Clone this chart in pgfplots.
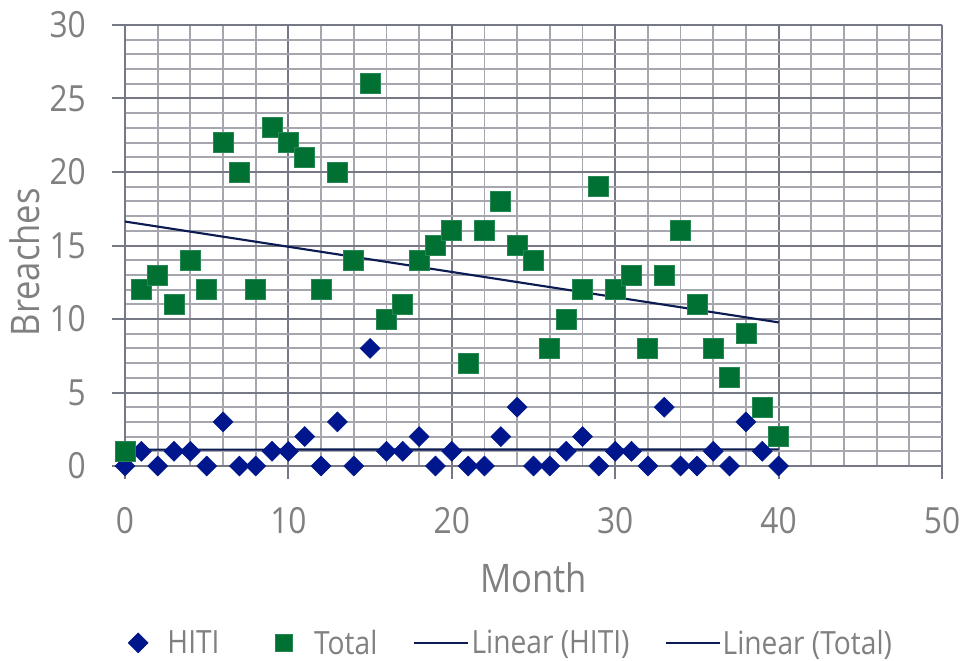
\documentclass[border=0pt]{standalone}
\usepackage{fontspec}
\setmainfont{Open Sans}[FakeStretch=0.88]
\usepackage{pgfplots}
\pgfplotsset{compat=1.18}
\definecolor{hiti}{RGB}{0,22,140}
\definecolor{total}{RGB}{0,113,50}
\definecolor{trend}{RGB}{12,28,82}
\definecolor{majorg}{RGB}{118,120,134}
\definecolor{minorg}{RGB}{166,167,174}
\definecolor{txt}{RGB}{128,128,128}
\pgfplotsset{
  legA/.style={legend image code/.code={\path (-7.5pt,0pt) (21.75pt,0pt); \draw[##1] plot coordinates {(0pt,0pt)};}},
  legB/.style={legend image code/.code={\path (-48pt,0pt) (22.5pt,0pt); \draw[##1, mark size=6.5pt] plot coordinates {(0pt,0pt)};}},
  legC/.style={legend image code/.code={\path (-27pt,0pt) (42pt,0pt); \draw[##1] (0pt,0pt) -- (40.5pt,0pt);}},
  legD/.style={legend image code/.code={\path (-26.25pt,0pt) (42pt,0pt); \draw[##1] (0pt,0pt) -- (40.5pt,0pt);}},
}
\begin{document}
\begin{tikzpicture}
\begin{axis}[
  scale only axis,
  width=612.75pt, height=330.75pt,
  xmin=0, xmax=50, ymin=0, ymax=30,
  xtick={0,10,...,50}, ytick={0,5,...,30},
  minor x tick num=4, minor y tick num=4,
  grid=both,
  major grid style={color=majorg, line width=1.5pt},
  minor grid style={color=minorg, line width=1.4pt},
  axis lines*=left,
  axis line style={color=majorg, line width=1.6pt},
  tick align=outside,
  major tick length=9.75pt, minor tick length=0pt,
  major tick style={color=majorg, line width=1.5pt},
  /pgf/number format/assume math mode=true,
  ticklabel style={font=\fontsize{27}{32}\selectfont, text=txt, inner sep=0pt},
  xticklabel style={anchor=north, yshift=-21pt},
  yticklabel style={anchor=east, xshift=-19.5pt},
  xlabel={Month}, ylabel={Breaches},
  every axis x label/.style={at={(axis description cs:0.5,-0.254)}, anchor=center, font=\fontsize{29.5}{34}\selectfont, text=txt},
  every axis y label/.style={at={(axis description cs:-0.1224,0.462)}, anchor=center, rotate=90, font=\fontsize{29.5}{34}\selectfont, text=txt},
  clip=false,
  legend columns=4,
  legend style={at={(axis description cs:0.4712,-0.401)}, anchor=center,
    draw=none, fill=none, font=\fontsize{24}{28}\selectfont, text=txt,
    /tikz/every even column/.style={column sep=0pt},
    /tikz/every odd column/.style={column sep=0pt},
    nodes={inner xsep=0pt, inner ysep=2pt}},
  legend cell align=left,
]
\addplot[only marks, mark=square*, mark size=5.3pt, mark options={rotate=45, fill=hiti, draw=hiti, line width=0.4pt}, legA]
coordinates {
(0,0)(1,1)(2,0)(3,1)(4,1)(5,0)(6,3)(7,0)(8,0)(9,1)(10,1)(11,2)(12,0)(13,3)(14,0)(15,8)(16,1)(17,1)(18,2)(19,0)(20,1)
(21,0)(22,0)(23,2)(24,4)(25,0)(26,0)(27,1)(28,2)(29,0)(30,1)(31,1)(32,0)(33,4)(34,0)(35,0)(36,1)(37,0)(38,3)(39,1)(40,0)
};
\addlegendentry{HITI}
\addplot[only marks, mark=square*, mark size=7.5pt, mark options={fill=total, draw=total!85!white, line width=0.6pt}, legB]
coordinates {
(0,1)(1,12)(2,13)(3,11)(4,14)(5,12)(6,22)(7,20)(8,12)(9,23)(10,22)(11,21)(12,12)(13,20)(14,14)(15,26)(16,10)(17,11)(18,14)(19,15)(20,16)
(21,7)(22,16)(23,18)(24,15)(25,14)(26,8)(27,10)(28,12)(29,19)(30,12)(31,13)(32,8)(33,13)(34,16)(35,11)(36,8)(37,6)(38,9)(39,4)(40,2)
};
\addlegendentry{Total}
\addplot[color=trend, line width=1.6pt, no marks, legC]
coordinates {(0,1.115)(40,1.129)};
\addlegendentry{Linear (HITI)}
\addplot[color=trend, line width=1.6pt, no marks, legD]
coordinates {(0,16.63)(40,9.77)};
\addlegendentry{Linear (Total)}
\coordinate (BL) at (rel axis cs:0,0);
\coordinate (TR) at (rel axis cs:1,1);
\end{axis}
\pgfresetboundingbox
\path[use as bounding box] ([shift={(-93.75pt,-145.5pt)}]BL) rectangle ([shift={(18pt,18.75pt)}]TR);
\end{tikzpicture}
\end{document}
